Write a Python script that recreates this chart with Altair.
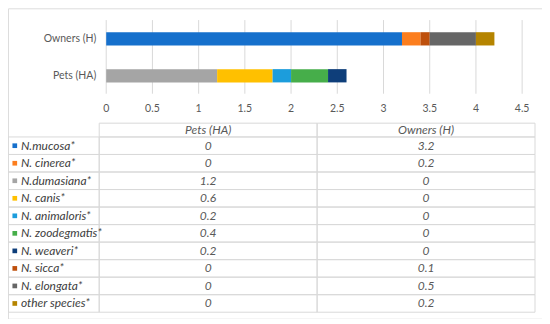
import altair as alt
import pandas as pd

# ---------------- data ----------------
species = ["N.mucosa*", "N. cinerea*", "N.dumasiana*", "N. canis*", "N. animaloris*",
           "N. zoodegmatis*", "N. weaveri*", "N. sicca*", "N. elongata*", "other species*"]
pets_ha = [0, 0, 1.2, 0.6, 0.2, 0.4, 0.2, 0, 0, 0]
owners_h = [3.2, 0.2, 0, 0, 0, 0, 0, 0.1, 0.5, 0.2]
bar_groups = ["Owners (H)", "Pets (HA)"]
table_cols = ["Pets (HA)", "Owners (H)"]
colors = ["#1670CC", "#FC7E1E", "#A5A5A5", "#FFC000", "#1C9DDC",
          "#46AE4A", "#0E3E7A", "#BE500C", "#666666", "#B58400"]
tick_values = [0, 0.5, 1, 1.5, 2, 2.5, 3, 3.5, 4, 4.5]
tick_labels = ["0", "0.5", "1", "1.5", "2", "2.5", "3", "3.5", "4", "4.5"]

rows = []
for i, sp in enumerate(species):
    rows.append(dict(species=sp, order=i, group="Pets (HA)", value=pets_ha[i]))
    rows.append(dict(species=sp, order=i, group="Owners (H)", value=owners_h[i]))
long_df = pd.DataFrame(rows)
sp_df = pd.DataFrame({"species": species, "order": list(range(len(species)))})
tick_df = pd.DataFrame({"tick": tick_values, "label": tick_labels})
grp_df = pd.DataFrame({"group": bar_groups})
col_df = pd.DataFrame({"group": table_cols})

FONT = "Lato"
GRID = "#d9d9d9"
TXT = "#595959"
NAME = "#404040"
FS_AX = 10.5
FS_TB = 12

W, H = 535, 311

x_bar = alt.Scale(domain=[0, 4.5], range=[98.4, 515.1], nice=False, zero=True)
y_bar = alt.Scale(domain=bar_groups, range=[12.1, 86.1], paddingInner=0, paddingOuter=0)
color_sc = alt.Scale(domain=species, range=colors)
x_col = alt.Scale(domain=table_cols, range=[91.4, 528], paddingInner=0, paddingOuter=0)
y_row = alt.Scale(domain=species, range=[128.9, 304.5], paddingInner=0, paddingOuter=0)

grid = alt.Chart(tick_df).mark_rule(color=GRID, strokeWidth=1).encode(
    x=alt.X("tick:Q", scale=x_bar, axis=None),
    y=alt.value(11.8), y2=alt.value(85.6))

bars = alt.Chart(long_df).transform_filter("datum.value > 0").mark_bar(size=13.3).encode(
    x=alt.X("value:Q", stack="zero", scale=x_bar, axis=None),
    y=alt.Y("group:N", scale=y_bar, axis=None),
    color=alt.Color("species:N", scale=color_sc, legend=None),
    order=alt.Order("order:Q"))

grp_labels = alt.Chart(grp_df).mark_text(align="right", baseline="middle", font=FONT,
                                         fontSize=FS_AX, color=TXT).encode(
    y=alt.Y("group:N", scale=y_bar, axis=None),
    x=alt.value(88.4), text="group:N")

tick_text = alt.Chart(tick_df).mark_text(align="center", baseline="middle", font=FONT,
                                         fontSize=FS_AX, color=TXT).encode(
    x=alt.X("tick:Q", scale=x_bar, axis=None),
    y=alt.value(101.4), text="label:N")

value_cells = alt.Chart(long_df).mark_rect(fillOpacity=0, stroke=GRID, strokeWidth=1).encode(
    x=alt.X("group:N", scale=x_col, axis=None),
    y=alt.Y("species:N", scale=y_row, axis=None))

header_cells = alt.Chart(col_df).mark_rect(fillOpacity=0, stroke=GRID, strokeWidth=1).encode(
    x=alt.X("group:N", scale=x_col, axis=None),
    y=alt.value(115.1), y2=alt.value(128.9))

label_cells = alt.Chart(sp_df).mark_rect(fillOpacity=0, stroke=GRID, strokeWidth=1).encode(
    x=alt.value(0), x2=alt.value(91.4),
    y=alt.Y("species:N", scale=y_row, axis=None))

squares = alt.Chart(sp_df).mark_square(size=22, opacity=1).encode(
    x=alt.value(6.8),
    y=alt.Y("species:N", scale=y_row, axis=None),
    color=alt.Color("species:N", scale=color_sc, legend=None))

names = alt.Chart(sp_df).mark_text(align="left", baseline="middle", font=FONT, fontSize=FS_TB,
                                   fontStyle="italic", color=NAME).encode(
    x=alt.value(12.9),
    y=alt.Y("species:N", scale=y_row, axis=None),
    text="species:N")

values = alt.Chart(long_df).mark_text(align="center", baseline="middle", font=FONT, fontSize=FS_TB,
                                      fontStyle="italic", color=TXT).encode(
    x=alt.X("group:N", scale=x_col, axis=None),
    y=alt.Y("species:N", scale=y_row, axis=None),
    text=alt.Text("value:Q", format="~g"))

headers = alt.Chart(col_df).mark_text(align="center", baseline="middle", font=FONT, fontSize=FS_TB,
                                      fontStyle="italic", color=TXT).encode(
    x=alt.X("group:N", scale=x_col, axis=None),
    y=alt.value(122), text="group:N")

chart = alt.layer(
    grid, bars, grp_labels, tick_text,
    value_cells, header_cells, label_cells, squares, names, values, headers
).resolve_scale(
    x="independent", y="independent"
).properties(
    width=W, height=H,
    autosize=alt.AutoSizeParams(type="none"),
    padding=0
).configure_view(
    stroke=GRID, strokeWidth=1
).configure(font=FONT)

chart.save("out.html", embed_options={"renderer": "svg", "actions": False})
